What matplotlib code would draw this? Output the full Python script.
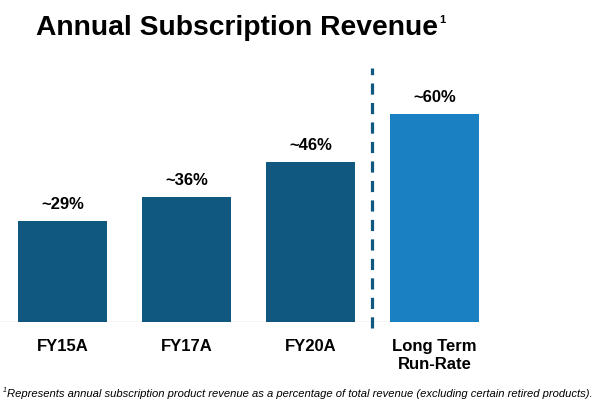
import matplotlib.pyplot as plt

plt.rcParams['font.family'] = ['Liberation Sans', 'DejaVu Sans']

categorias = ["FY15A", "FY17A", "FY20A", "Long Term\nRun-Rate"]
valores = [29, 36, 46, 60]
etiquetas = ["~29%", "~36%", "~46%", "~60%"]

azulOscuro = "#105880"
azulClaro = "#1a80c1"
colores = [azulOscuro, azulOscuro, azulOscuro, azulClaro]

fig = plt.figure(figsize=(6.02, 4.04), dpi=100)
# ejes en coordenadas de pixel: base en y=322, parte superior en y=60
ax = fig.add_axes([0, (404 - 322) / 404, 1, (322 - 60) / 404])

x = list(range(len(categorias)))
ax.bar(x, valores, width=0.725, color=colores, zorder=2)

for xi, v, txt in zip(x, valores, etiquetas):
    ax.text(xi, v + 2.6, txt, ha='center', va='bottom', fontsize=12,
            fontweight='bold', color='black')

ax.set_xlim(-0.504, 4.351)
ax.set_ylim(0, 75.5)
ax.axis('off')

# linea base gris
ax.plot([-0.504, 2.97], [0, 0], color='#d0d0d0', lw=1, zorder=1)

# linea punteada de separacion
ax.plot([2.5, 2.5], [-1.8, 73.2], color=azulOscuro, lw=2.3,
        dashes=(3.5, 2.6), clip_on=False, zorder=3)

# etiquetas de categorias
for xi, cat in zip(x, categorias):
    ax.text(xi, -4.8, cat, ha='center', va='top', fontsize=12,
            fontweight='bold', color='black', linespacing=1.25)

# titulo con superindice pequeño
titulo = fig.text(36 / 602, 1 - 28 / 404, "Annual Subscription Revenue",
                  ha='left', va='center', fontsize=20.3, fontweight='bold')
fig.canvas.draw()
bb = titulo.get_window_extent()
fig.text((bb.x1 + 1) / 602, 1 - 20 / 404, "1", ha='left', va='center',
         fontsize=8, fontweight='bold')

# nota al pie
fig.text(3 / 602, 1 - 391 / 404, "1", ha='left', va='center', fontsize=5,
         style='italic')
fig.text(7 / 602, 1 - 394 / 404,
         "Represents annual subscription product revenue as a percentage of total revenue (excluding certain retired products).",
         ha='left', va='center', fontsize=8.1, style='italic')

fig.savefig("out.png", dpi=100)
